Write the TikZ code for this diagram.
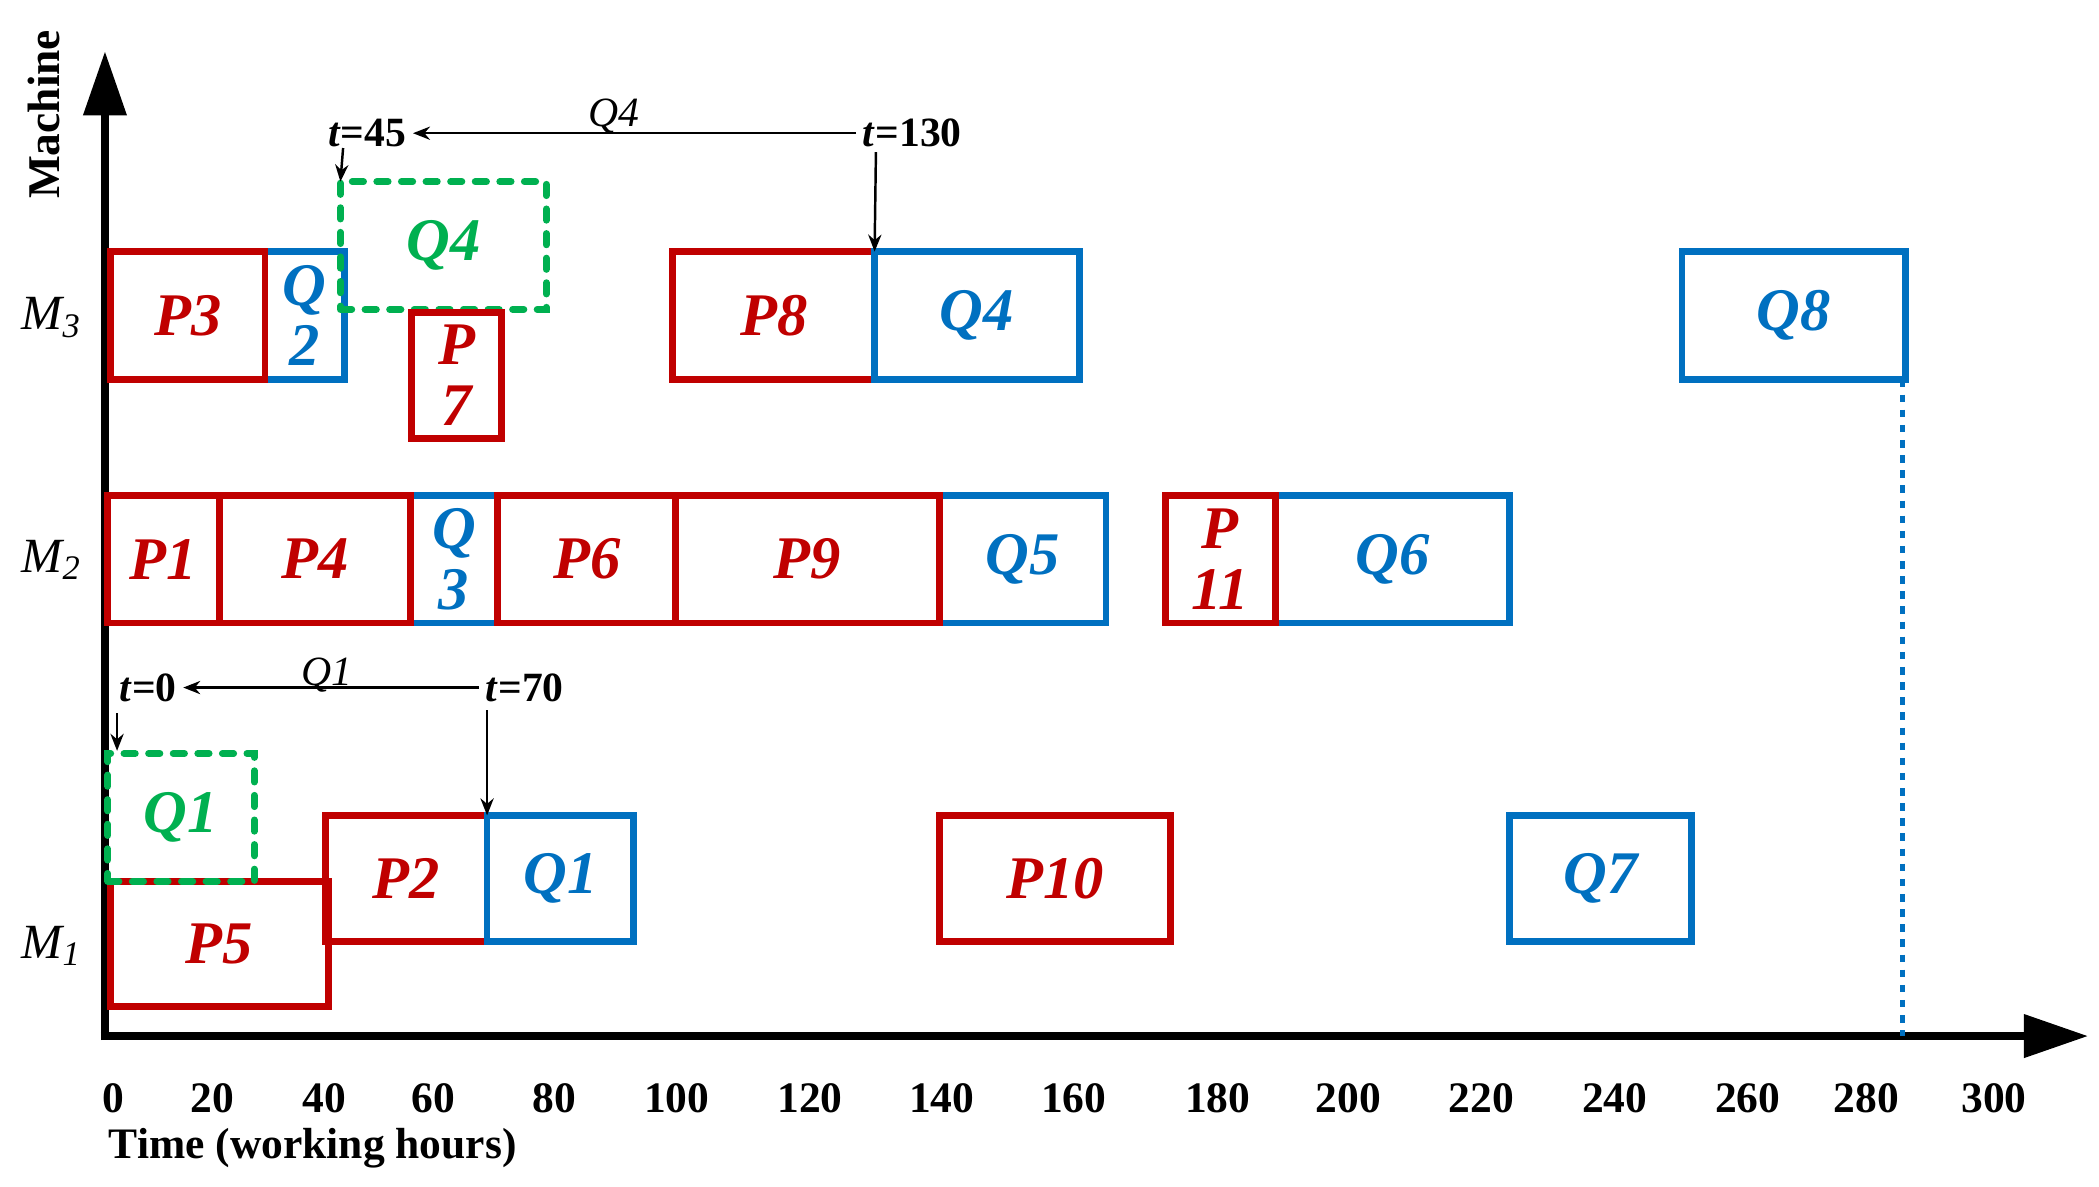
\documentclass[tikz,border=0pt]{standalone}
\usepackage{fontspec}
\setmainfont{Liberation Serif}
\usetikzlibrary{arrows.meta}
\definecolor{cr}{HTML}{C00000}
\definecolor{cb}{HTML}{0070C0}
\definecolor{cg}{HTML}{00B050}
\newcommand{\bx}[7]{\node[box,draw=#6,text=#6,minimum width={(#4-#2)*0.25mm},minimum height={(#5-#3)*0.25mm}] (#1) at ({(#2+#4)/2},{(#3+#5)/2}) {#7};}
\begin{document}
\begin{tikzpicture}[x=0.25mm,y=-0.25mm,
 box/.style={line width=3.6pt,inner sep=0pt,outer sep=0pt,align=center,font=\fontsize{32}{32}\selectfont\bfseries\itshape},
 gbox/.style={box,dash pattern=on 6pt off 7pt,line cap=round},
 tick/.style={font=\fontsize{23}{23}\selectfont\bfseries},
 ann/.style={font=\fontsize{22}{22}\selectfont\bfseries},
 ar/.style={line width=1.3pt,-{Stealth[length=9pt,width=7pt]}}]
\useasboundingbox (0,0) rectangle (1560,882);
% axes
\coordinate (o) at (78,770);
\coordinate (ytop) at (78,38);
\coordinate (xend) at (1552,770);
\draw[line width=4.5pt,-{Triangle[length=34pt,width=22pt]}] (78,773) -- (ytop);
\draw[line width=4.5pt,-{Triangle[length=34pt,width=22pt]}] (75,770) -- (xend);
\node[rotate=90,font=\fontsize{24}{24}\selectfont\bfseries] (mach) at (33,85) {Machine};
\node[font=\fontsize{26}{26}\selectfont\itshape] (m3) at (38,236) {M\textsubscript{3}};
\node[font=\fontsize{26}{26}\selectfont\itshape] (m2) at (38,416) {M\textsubscript{2}};
\node[font=\fontsize{26}{26}\selectfont\itshape] (m1) at (38,703) {M\textsubscript{1}};
\foreach \v/\x in {0/84,20/158,40/241,60/322,80/412,100/503,120/602,140/700,160/798,180/905,200/1002,220/1101,240/1200,260/1299,280/1387,300/1482}
  \node[tick] (t\v) at (\x,816) {\v};
\node[tick,anchor=west] (tl) at (76,853) {Time (working hours)};
% M3
\bx{q2}{197}{187}{256}{282}{cb}{Q\\2}
\bx{p3}{82}{187}{197}{282}{cr}{P3}
\node[gbox,draw=cg,text=cg,minimum width={153*0.25mm},minimum height={95*0.25mm}] (g4) at (329.5,182.5) {Q4};
\bx{p7}{306}{232}{373}{326}{cr}{P\\7}
\bx{p8}{500}{187}{650}{282}{cr}{P8}
\bx{q4}{650}{187}{802}{282}{cb}{Q4}
\bx{q8}{1250}{187}{1416}{282}{cb}{Q8}
% M2
\bx{q3}{305}{368}{370}{463}{cb}{Q\\3}
\bx{q5}{698}{368}{822}{463}{cb}{Q5}
\bx{q6}{948}{368}{1122}{463}{cb}{Q6}
\bx{p1}{80}{368}{163}{463}{cr}{P1}
\bx{p4}{163}{368}{305}{463}{cr}{P4}
\bx{p6}{370}{368}{502}{463}{cr}{P6}
\bx{p9}{502}{368}{698}{463}{cr}{P9}
\bx{p11}{866}{368}{948}{463}{cr}{P\\11}
% M1
\bx{p5}{82}{655}{244}{748}{cr}{P5}
\bx{p2}{242}{606}{362}{700}{cr}{P2}
\bx{q1}{362}{606}{471}{700}{cb}{Q1}
\bx{p10}{698}{606}{870}{700}{cr}{P10}
\bx{q7}{1122}{606}{1257}{700}{cb}{Q7}
\node[gbox,draw=cg,text=cg,minimum width={109*0.25mm},minimum height={95*0.25mm}] (g1) at (134.5,607.5) {Q1};
% dotted line
\coordinate (d0) at (1414,770);
\draw[cb,line width=3pt,dash pattern=on 4pt off 4pt] (q8.south east) ++(-2,0) -- (d0);
% annotations M3
\node[ann] (a45) at (273,99) {\textit{t}=45};
\node[ann] (a130) at (678,99) {\textit{t}=130};
\node[ann,font=\fontsize{22}{22}\selectfont\itshape] (lq4) at (456,86) {Q4};
\draw[ar] (a130.west) -- (a45.east);
\draw[ar] (651,113) -- (q4.north west);
\coordinate (s45) at (255,110);
\draw[ar] (s45) -- (g4.north west);
% annotations M1
\node[ann] (a0) at (110,511) {\textit{t}=0};
\node[ann] (a70) at (390,511) {\textit{t}=70};
\node[ann,font=\fontsize{22}{22}\selectfont\itshape] (lq1) at (243,502) {Q1};
\draw[ar] (a70.west) -- (a0.east);
\draw[ar] (362,528) -- (q1.north west);
\coordinate (s0) at (87,530);
\draw[ar] (s0) -- (87,558);
\end{tikzpicture}
\end{document}
